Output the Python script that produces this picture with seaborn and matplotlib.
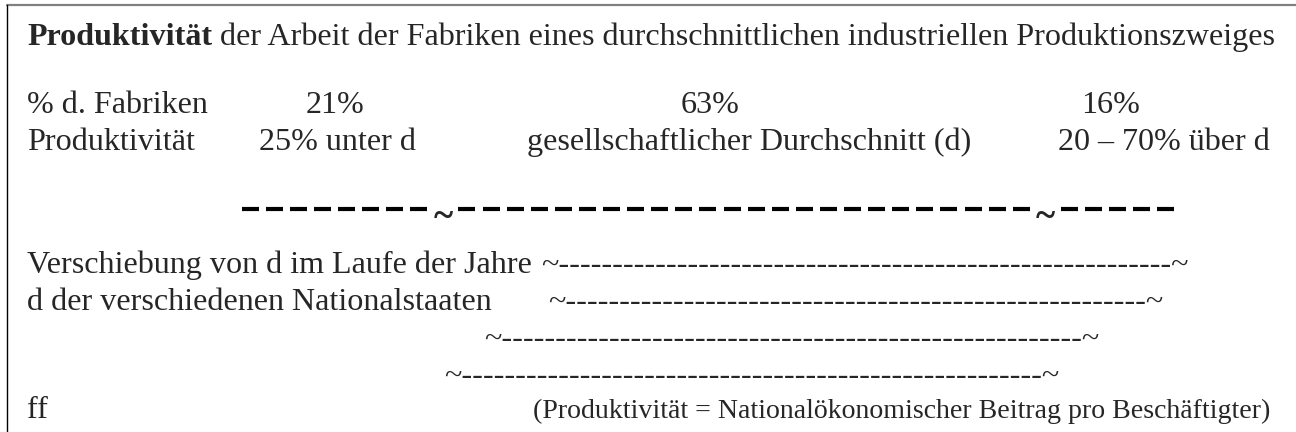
import numpy as np
import seaborn as sns
import matplotlib.pyplot as plt

# text content of the diagram
title_bold = "Produktivität"
title_rest = " der Arbeit der Fabriken eines durchschnittlichen industriellen Produktionszweiges"
row_labels = ["% d. Fabriken", "Produktivität"]
shares = ["21%", "63%", "16%"]
share_x = [335, 710, 1111]
prod_labels = ["25% unter d", "gesellschaftlicher Durchschnitt (d)", "20 – 70% über d"]
prod_x = [259, 527, 1270]
prod_ha = ["left", "left", "right"]

# the thick dashed scale: dashes between the two tildes
dash_groups = [8, 24, 5]
dash_start = 238
dash_period = 24.1

# tilde ranges below the scale
range_labels = ["Verschiebung von d im Laufe der Jahre", "d der verschiedenen Nationalstaaten", "", ""]
range_start = [541, 548, 484, 444]
range_hyphens = [57, 54, 54, 54]
range_y = [273, 310, 347, 384]

footnote = "(Produktivität = Nationalökonomischer Beitrag pro Beschäftigter)"

sns.set_theme(style="white")
plt.rcParams["font.family"] = ["Liberation Serif", "DejaVu Serif"]

fig = plt.figure(figsize=(12.96, 4.32), dpi=100)
ax = fig.add_axes([0, 0, 1, 1])
ax.set_xlim(0, 1296)
ax.set_ylim(432, 0)
ax.axis("off")

# frame (top and left only)
ax.plot([7, 1296], [5, 5], color="#808080", lw=1.6)
ax.plot([7, 7], [5, 432], color="black", lw=1.0)

# title: pick font size so the line spans the reference width
left = 27
fs = 22
t1 = ax.text(left, 45, title_bold, fontsize=fs, fontweight="bold", va="baseline")
t2 = ax.text(left, 45, title_rest, fontsize=fs, va="baseline")
fig.canvas.draw()
w = t1.get_window_extent().width + t2.get_window_extent().width
fs = fs * 1245 / w
t1.set_fontsize(fs)
t2.set_fontsize(fs)
fig.canvas.draw()
bb = t1.get_window_extent()
t2.set_x(ax.transData.inverted().transform((bb.x1, bb.y0))[0])

# rows
ax.text(left, 113, row_labels[0], fontsize=fs, va="baseline")
ax.text(left, 150, row_labels[1], fontsize=fs, va="baseline")
for s, x in zip(shares, share_x):
    ax.text(x, 113, s, fontsize=fs, va="baseline", ha="center")
for s, x, ha in zip(prod_labels, prod_x, prod_ha):
    ax.text(x, 150, s, fontsize=fs, va="baseline", ha=ha)

# thick dashed scale with tildes
x = dash_start
for i, n in enumerate(dash_groups):
    for k in range(n):
        ax.plot([x + 3.5, x + 20.5], [209, 209], color="black", lw=3.0, solid_capstyle="butt")
        x += dash_period
    if i < len(dash_groups) - 1:
        ax.text(x + dash_period / 2, 217, "~", fontsize=fs * 1.15, fontweight="bold",
                ha="center", va="center")
        x += dash_period

# ranges
for lab, xs, nh, y in zip(range_labels, range_start, range_hyphens, range_y):
    if lab:
        ax.text(left, y, lab, fontsize=fs, va="baseline")
    ax.text(xs, y, "~" + "-" * nh + "~", fontsize=fs, va="baseline", ha="left")

ax.text(left, 418, "ff", fontsize=fs, va="baseline")
ax.text(1270, 418, footnote, fontsize=fs * 0.87, va="baseline", ha="right")

fig.savefig("out.png", dpi=100)
